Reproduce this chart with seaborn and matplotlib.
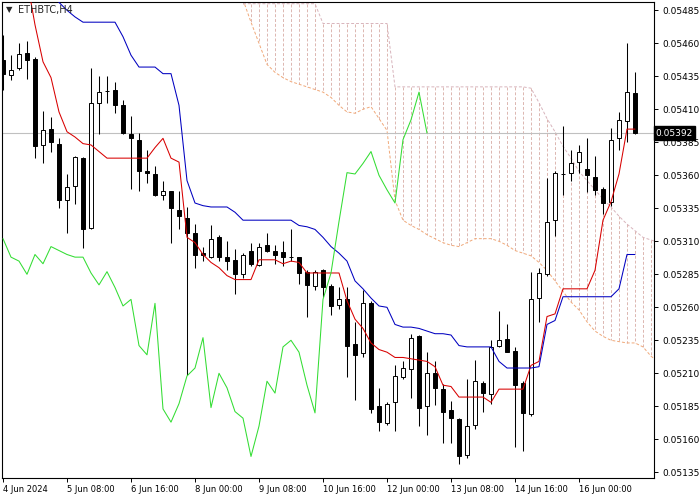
import matplotlib
matplotlib.use("Agg")
import matplotlib.pyplot as plt
import seaborn as sns
import numpy as np

# ETHBTC H4, one candle every 4 hours from 4 Jun 2024 00:00
opens = [0.05447, 0.05436, 0.05441, 0.05453, 0.05448, 0.05383, 0.05395, 0.05384, 0.05341, 0.05352,
         0.05373, 0.05320, 0.05415, 0.05424, 0.05425, 0.05413, 0.05391, 0.05387, 0.05363, 0.05361,
         0.05345, 0.05348, 0.05334, 0.05328, 0.05316, 0.05301, 0.05298, 0.05313, 0.05298, 0.05296,
         0.05285, 0.05303, 0.05292, 0.05307, 0.05303, 0.05302, 0.05298, 0.05298, 0.05287, 0.05276,
         0.05288, 0.05276, 0.05262, 0.05266, 0.05232, 0.05225, 0.05263, 0.05185, 0.05172, 0.05188,
         0.05207, 0.05213, 0.05238, 0.05185, 0.05210, 0.05198, 0.05182, 0.05175, 0.05148, 0.05171,
         0.05203, 0.05194, 0.05231, 0.05236, 0.05227, 0.05203, 0.05179, 0.05267, 0.05285, 0.05326,
         0.05361, 0.05362, 0.05370, 0.05365, 0.05359, 0.05350, 0.05340, 0.05388, 0.05401, 0.05422]
highs = [0.05466, 0.05451, 0.05460, 0.05462, 0.05450, 0.05409, 0.05404, 0.05388, 0.05361, 0.05375,
         0.05374, 0.05441, 0.05435, 0.05435, 0.05431, 0.05417, 0.05405, 0.05392, 0.05379, 0.05367,
         0.05356, 0.05348, 0.05348, 0.05336, 0.05323, 0.05306, 0.05322, 0.05315, 0.05310, 0.05304,
         0.05301, 0.05309, 0.05309, 0.05316, 0.05307, 0.05310, 0.05319, 0.05298, 0.05288, 0.05288,
         0.05289, 0.05278, 0.05275, 0.05275, 0.05249, 0.05273, 0.05265, 0.05199, 0.05188, 0.05216,
         0.05219, 0.05240, 0.05239, 0.05226, 0.05219, 0.05202, 0.05189, 0.05176, 0.05206, 0.05220,
         0.05204, 0.05235, 0.05257, 0.05247, 0.05230, 0.05204, 0.05287, 0.05290, 0.05358, 0.05363,
         0.05397, 0.05379, 0.05383, 0.05388, 0.05375, 0.05351, 0.05396, 0.05408, 0.05460, 0.05438]
lows = [0.05425, 0.05432, 0.05440, 0.05433, 0.05373, 0.05369, 0.05378, 0.05335, 0.05316, 0.05338,
        0.05305, 0.05319, 0.05391, 0.05415, 0.05407, 0.05391, 0.05350, 0.05348, 0.05354, 0.05344,
        0.05341, 0.05309, 0.05319, 0.05209, 0.05290, 0.05295, 0.05297, 0.05295, 0.05288, 0.05270,
        0.05282, 0.05291, 0.05291, 0.05302, 0.05293, 0.05291, 0.05295, 0.05278, 0.05253, 0.05273,
        0.05268, 0.05254, 0.05259, 0.05207, 0.05190, 0.05222, 0.05180, 0.05166, 0.05171, 0.05166,
        0.05206, 0.05191, 0.05170, 0.05163, 0.05186, 0.05157, 0.05157, 0.05141, 0.05146, 0.05168,
        0.05181, 0.05187, 0.05230, 0.05226, 0.05154, 0.05151, 0.05178, 0.05249, 0.05284, 0.05314,
        0.05345, 0.05356, 0.05362, 0.05347, 0.05345, 0.05331, 0.05337, 0.05379, 0.05385, 0.05391]
closes = [0.05437, 0.05440, 0.05452, 0.05447, 0.05382, 0.05394, 0.05385, 0.05341, 0.05351, 0.05374,
          0.05319, 0.05415, 0.05423, 0.05424, 0.05413, 0.05392, 0.05388, 0.05363, 0.05362, 0.05345,
          0.05348, 0.05335, 0.05329, 0.05316, 0.05300, 0.05300, 0.05312, 0.05298, 0.05295, 0.05285,
          0.05300, 0.05293, 0.05306, 0.05303, 0.05300, 0.05298, 0.05298, 0.05286, 0.05277, 0.05287,
          0.05275, 0.05261, 0.05266, 0.05231, 0.05224, 0.05263, 0.05183, 0.05173, 0.05187, 0.05208,
          0.05214, 0.05237, 0.05184, 0.05210, 0.05199, 0.05181, 0.05176, 0.05147, 0.05170, 0.05204,
          0.05195, 0.05230, 0.05235, 0.05226, 0.05201, 0.05180, 0.05266, 0.05286, 0.05325, 0.05362,
          0.05361, 0.05369, 0.05378, 0.05360, 0.05349, 0.05339, 0.05387, 0.05402, 0.05423, 0.05392]

# Ichimoku lines
tenkan = [0.05523, 0.05523, 0.05519, 0.05508, 0.05474, 0.05446, 0.05434, 0.05408, 0.05393, 0.05389,
          0.05384, 0.05383, 0.05378, 0.05373, 0.05373, 0.05373, 0.05373, 0.05373, 0.05373, 0.05381,
          0.05388, 0.05373, 0.05370, 0.05313, 0.05309, 0.05300, 0.05294, 0.05290, 0.05284, 0.05281,
          0.05281, 0.05281, 0.05296, 0.05296, 0.05296, 0.05293, 0.05295, 0.05294, 0.05286, 0.05286,
          0.05286, 0.05286, 0.05286, 0.05265, 0.05251, 0.05244, 0.05233, 0.05228, 0.05226, 0.05222,
          0.05222, 0.05221, 0.05220, 0.05219, 0.05215, 0.05201, 0.05200, 0.05192, 0.05192, 0.05192,
          0.05192, 0.05188, 0.05198, 0.05198, 0.05198, 0.05198, 0.05216, 0.05219, 0.05253, 0.05255,
          0.05274, 0.05274, 0.05274, 0.05274, 0.05288, 0.05326, 0.05340, 0.05361, 0.05395, 0.05395]
kijun = [0.05523, 0.05523, 0.05519, 0.05515, 0.05508, 0.05505, 0.05499, 0.05491, 0.05485, 0.05480,
         0.05476, 0.05476, 0.05476, 0.05476, 0.05476, 0.05465, 0.05451, 0.05442, 0.05442, 0.05442,
         0.05437, 0.05437, 0.05413, 0.05356, 0.05339, 0.05337, 0.05336, 0.05336, 0.05336, 0.05332,
         0.05326, 0.05326, 0.05326, 0.05326, 0.05326, 0.05326, 0.05326, 0.05322, 0.05321, 0.05319,
         0.05313, 0.05306, 0.05301, 0.05295, 0.05280, 0.05274, 0.05267, 0.05261, 0.05260, 0.05247,
         0.05245, 0.05245, 0.05244, 0.05242, 0.05240, 0.05240, 0.05239, 0.05231, 0.05230, 0.05230,
         0.05230, 0.05230, 0.05219, 0.05214, 0.05214, 0.05214, 0.05214, 0.05215, 0.05247, 0.05250,
         0.05268, 0.05268, 0.05268, 0.05268, 0.05268, 0.05268, 0.05268, 0.05274, 0.05300, 0.05300]
chikou = [0.05312, 0.05298, 0.05295, 0.05285, 0.05300, 0.05293, 0.05306, 0.05303, 0.05300, 0.05298,
          0.05298, 0.05286, 0.05277, 0.05287, 0.05275, 0.05261, 0.05266, 0.05231, 0.05224, 0.05263,
          0.05183, 0.05173, 0.05187, 0.05208, 0.05214, 0.05237, 0.05184, 0.05210, 0.05199, 0.05181,
          0.05176, 0.05147, 0.05170, 0.05204, 0.05195, 0.05230, 0.05235, 0.05226, 0.05201, 0.05180,
          0.05266, 0.05286, 0.05325, 0.05362, 0.05361, 0.05369, 0.05378, 0.05360, 0.05349, 0.05339,
          0.05387, 0.05402, 0.05423, 0.05392]
# cloud, visible from bar 30 on
cloud_start = 30
span_a = [0.05493, 0.05476, 0.05460, 0.05444, 0.05438, 0.05434, 0.05431, 0.05429, 0.05427, 0.05425,
          0.05423, 0.05419, 0.05413, 0.05408, 0.05407, 0.05410, 0.05412, 0.05403, 0.05394, 0.05341,
          0.05326, 0.05322, 0.05319, 0.05315, 0.05312, 0.05309, 0.05307, 0.05306, 0.05309, 0.05312,
          0.05312, 0.05312, 0.05310, 0.05307, 0.05303, 0.05301, 0.05299, 0.05294, 0.05288, 0.05280,
          0.05272, 0.05264, 0.05258, 0.05249, 0.05242, 0.05238, 0.05235, 0.05234, 0.05233, 0.05233,
          0.05230, 0.05223, 0.05218]
span_b = [0.05490] * 10 + [0.05475] * 9 + [0.05427] * 17 + \
         [0.05426, 0.05415, 0.05403, 0.05393, 0.05382, 0.05373, 0.05363, 0.05356, 0.05349, 0.05342,
          0.05336, 0.05329, 0.05323, 0.05318, 0.05313, 0.05311, 0.05309]

x_labels = ["4 Jun 2024", "5 Jun 08:00", "6 Jun 16:00", "8 Jun 00:00", "9 Jun 08:00",
            "10 Jun 16:00", "12 Jun 00:00", "13 Jun 08:00", "14 Jun 16:00", "16 Jun 00:00"]

sns.set_style("white")
plt.rcParams["font.family"] = ["DejaVu Sans"]

fig = plt.figure(figsize=(7, 5), dpi=100)
ax = fig.add_axes([2 / 700, 22 / 500, 652 / 700, 476 / 500])

o = np.array(opens)
h = np.array(highs)
l = np.array(lows)
c = np.array(closes)
x = np.arange(len(c))

# cloud hatching and its edges
xc = np.arange(cloud_start, cloud_start + len(span_a))
dash = (0, (3, 2))
ax.vlines(xc, span_b, span_a, colors="#dcb6b0", linestyles=dash, lw=0.7, zorder=1)
ax.plot(xc, span_a, color="#f0a878", ls=dash, lw=0.7, zorder=1)
ax.plot(xc, span_b, color="#d8b4bc", ls=dash, lw=0.7, zorder=1)

# last price line
ax.axhline(closes[-1], color="#c0c0c0", lw=0.8, zorder=2)

# candles
up = c >= o
ax.vlines(x, l, h, color="black", lw=0.75, zorder=3)
ax.bar(x, np.abs(c - o), bottom=np.minimum(o, c), width=0.5,
       color=np.where(up, "white", "black"), edgecolor="black", linewidth=0.7, zorder=3.5)

sns.lineplot(x=x, y=tenkan, color="#d80000", lw=0.75, ax=ax, zorder=4)
sns.lineplot(x=x, y=kijun, color="#0000c0", lw=0.75, ax=ax, zorder=4)
sns.lineplot(x=np.arange(len(chikou)), y=chikou, color="#33dd33", lw=0.75, ax=ax, zorder=4)

ax.set_xlim(-0.125, 81.375)
ax.set_ylim(0.0513068, 0.0549129)

yt = np.round(np.arange(5135, 5486, 25) * 1e-5, 5)
ax.yaxis.tick_right()
ax.set_yticks(yt)
ax.set_yticklabels([f"{v:.5f}" for v in yt])
ax.set_xticks(range(0, len(c), 8))
ax.set_xticklabels(x_labels, ha="left")
ax.tick_params(axis="y", right=True, left=False, length=3, width=0.7, pad=3,
               labelsize=6.5, colors="black")
ax.tick_params(axis="x", bottom=True, length=3, width=0.7, pad=2,
               labelsize=6, colors="black")
for s in ax.spines.values():
    s.set_visible(True)
    s.set_color("black")
    s.set_linewidth(0.8)

ax.text(81.6, closes[-1], f"{closes[-1]:.5f}", color="white", fontsize=6.5,
        va="center", ha="left", clip_on=False, zorder=10,
        bbox=dict(boxstyle="square,pad=0.25", fc="black", ec="black"))

fig.text(9 / 700, 1 - 10 / 500, "▼", fontsize=6, ha="center", va="center")
fig.text(18 / 700, 1 - 10 / 500, "ETHBTC,H4", fontsize=7, ha="left", va="center")

fig.savefig("out.png", dpi=100)
